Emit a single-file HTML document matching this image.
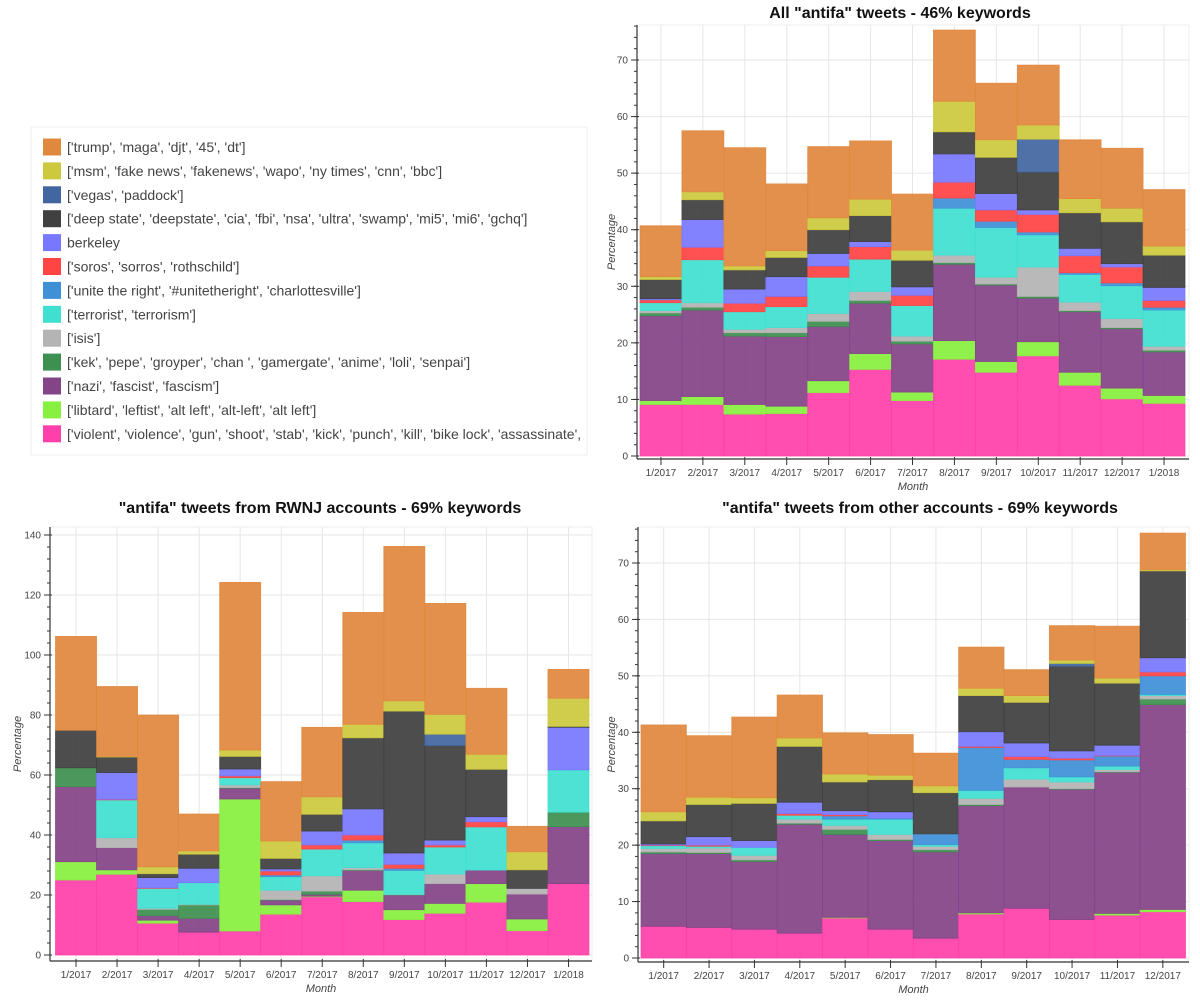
<!DOCTYPE html>
<html><head><meta charset="utf-8">
<style>
html,body{margin:0;padding:0;background:#fff;}
svg{display:block;font-family:"Liberation Sans",sans-serif;}
</style></head>
<body>
<svg id="svg" width="1200" height="1003" viewBox="0 0 1200 1003" xmlns="http://www.w3.org/2000/svg">
<g id="legend">
<rect x="31" y="127" width="556" height="328" fill="#fff" stroke="#ececec"/>
</g>
</svg>
<script>
// ---------- shared ----------
const seriesNames = ["['violent', 'violence', 'gun', 'shoot', 'stab', 'kick', 'punch', 'kill', 'bike lock', 'assassinate',",
"['libtard', 'leftist', 'alt left', 'alt-left', 'alt left']",
"['nazi', 'fascist', 'fascism']",
"['kek', 'pepe', 'groyper', 'chan ', 'gamergate', 'anime', 'loli', 'senpai']",
"['isis']",
"['terrorist', 'terrorism']",
"['unite the right', '#unitetheright', 'charlottesville']",
"['soros', 'sorros', 'rothschild']",
"berkeley",
"['deep state', 'deepstate', 'cia', 'fbi', 'nsa', 'ultra', 'swamp', 'mi5', 'mi6', 'gchq']",
"['vegas', 'paddock']",
"['msm', 'fake news', 'fakenews', 'wapo', 'ny times', 'cnn', 'bbc']",
"['trump', 'maga', 'djt', '45', 'dt']"];
const seriesKeys = ["violent","libtard","nazi","kek","isis","terrorist","unite","soros","berkeley","deepstate","vegas","msm","trump"];
const seriesColors = ["#FF40AA","#88F040","#844488","#3E9050","#B4B4B4","#40E0D0","#4090D8","#FF4444","#7878FF","#404040","#4266A0","#CCC93F","#E0883E"];

const months13 = ["1/2017","2/2017","3/2017","4/2017","5/2017","6/2017","7/2017","8/2017","9/2017","10/2017","11/2017","12/2017","1/2018"];
const months12 = months13.slice(0,12);

// ---------- chart 1: All tweets ----------
const c1_violent  = [9.1,9.1,7.4,7.5,11.2,15.3,9.8,17.1,14.8,17.7,12.5,10.1,9.3];
const c1_libtard  = [0.7,1.4,1.7,1.3,2.1,2.8,1.5,3.3,1.9,2.5,2.3,1.9,1.4];
const c1_nazi     = [15.0,15.3,12.1,12.3,9.6,8.9,8.5,13.5,13.5,7.7,10.7,10.5,7.7];
const c1_kek      = [0.5,0.5,0.6,0.7,0.9,0.5,0.5,0.3,0.2,0.3,0.2,0.2,0.3];
const c1_isis     = [0.4,0.8,0.6,0.9,1.4,1.6,0.9,1.3,1.2,5.2,1.5,1.6,0.7];
const c1_terror   = [1.4,7.6,3.1,3.7,6.4,5.7,5.4,8.3,8.8,5.7,4.9,5.8,6.4];
const c1_unite    = [0,0,0,0,0,0,0,1.8,1.1,0.5,0.3,0.5,0.5];
const c1_soros    = [0.5,2.2,1.5,1.8,2.0,2.2,1.8,2.8,2.0,3.1,3.0,2.8,1.2];
const c1_berkeley = [0.2,4.9,2.5,3.5,2.2,0.9,1.5,5.0,2.9,0.8,1.3,0.6,2.3];
const c1_deep     = [3.4,3.5,3.4,3.4,4.2,4.6,4.7,3.9,6.4,6.7,6.3,7.4,5.7];
const c1_vegas    = [0,0,0,0,0,0,0,0,0,5.8,0,0,0];
const c1_msm      = [0.5,1.4,0.7,1.2,2.1,2.9,1.8,5.4,3.1,2.5,2.5,2.4,1.6];
const c1_trump    = [9.0,10.8,20.9,11.8,12.6,10.3,9.9,12.6,10.0,10.6,10.4,10.6,10.0];
const c1_yTicks = [0,10,20,30,40,50,60,70];

// ---------- chart 2: RWNJ ----------
const c2_violent  = [25,26.9,10.6,7.6,8,13.6,19.4,17.8,11.8,13.9,17.6,8.1,23.8];
const c2_libtard  = [6.1,1.5,1.0,0,44,3.1,0.2,3.8,3.3,3.3,6.2,3.9,0];
const c2_nazi     = [25,7.4,1.5,4.6,3.6,1.6,0.6,6.6,4.9,6.6,4.5,8.3,19];
const c2_kek      = [6.3,0,2.1,4.5,0.2,0.2,1.1,0.2,0.1,0,0,0,4.8];
const c2_isis     = [0,3.3,0.4,0.2,0.9,3.1,5.1,0.7,0.1,3.2,0,1.9,0];
const c2_terror   = [0,12.6,6.6,7.2,2.4,4.5,8.9,8.3,8,9,14.4,0,14.1];
const c2_unite    = [0,0,0,0,0,0.6,0,0.9,0.7,0,0,0,0];
const c2_soros    = [0,0.2,0.2,0,0.6,1.3,1.4,1.7,1.3,0.7,1.7,0,0];
const c2_berkeley = [0,8.9,3.4,4.8,2.3,0.7,4.6,8.7,3.8,1.6,1.7,0,14.2];
const c2_deep     = [12.5,5.2,1.3,4.7,4.2,3.5,5.6,23.7,47.3,31.5,15.8,6.2,0.3];
const c2_vegas    = [0,0,0,0,0,0,0,0,0,3.8,0,0,0];
const c2_msm      = [0,0.2,2.3,1.1,2.1,5.8,5.8,4.5,3.4,6.6,5,6,9.4];
const c2_trump    = [31.3,23.3,50.6,12.3,55.9,19.8,23.2,37.3,51.5,37,22,8.5,9.6];
const c2_yTicks = [0,20,40,60,80,100,120,140];

// ---------- chart 3: other accounts ----------
const c3_violent  = [5.6,5.4,5.1,4.4,7.1,5.1,3.5,7.8,8.8,6.8,7.6,8.2];
const c3_libtard  = [0,0,0,0,0.1,0,0,0.2,0,0,0.3,0.4];
const c3_nazi     = [12.9,13.1,12,19.3,14.7,15.7,15.3,19,21.5,23.1,25,36.3];
const c3_kek      = [0.3,0.2,0.3,0.2,0.9,0.2,0.4,0.2,0,0.1,0.1,1];
const c3_isis     = [0.6,0.8,0.8,0.7,0.7,0.9,0.6,1.1,1.4,1.2,0.4,0.6];
const c3_terror   = [0.5,0.3,1.4,0.7,1.1,2.7,0.3,1.4,2,0.9,0.6,0.2];
const c3_unite    = [0,0,0,0,0.6,0.2,1.9,7.6,1.5,3,1.8,3.3];
const c3_soros    = [0.1,0.2,0,0.3,0.2,0,0,0.2,0.5,0.3,0.1,0.7];
const c3_berkeley = [0.2,1.5,1.2,2,0.7,1.1,0,2.6,2.4,1.3,1.8,2.5];
const c3_deep     = [4.1,5.7,6.6,9.9,5.1,5.7,7.3,6.4,7.2,15,11,15.4];
const c3_vegas    = [0,0,0,0,0,0,0,0,0,0.5,0,0];
const c3_msm      = [1.6,1.3,1,1.5,1.4,0.8,1.2,1.3,1.2,0.6,0.9,0.2];
const c3_trump    = [15.4,10.9,14.3,7.6,7.3,7.2,5.8,7.3,4.6,6.1,9.2,6.5];
const c3_yTicks = [0,10,20,30,40,50,60,70];

const NS = "http://www.w3.org/2000/svg";
const svg = document.getElementById('svg');
function mk(tag, attrs, parent){const e=document.createElementNS(NS,tag);for(const k in attrs)e.setAttribute(k,attrs[k]);(parent||svg).appendChild(e);return e;}

// legend
const legend = document.getElementById('legend');
for(let i=0;i<13;i++){
  const s = 12-i; const cy = 147 + i*23.9;
  const sw = mk('rect',{x:43,y:cy-8.5,width:18,height:17,fill:seriesColors[s]},legend);
  
  
  const t = mk('text',{x:67,y:cy+5,'font-size':14,fill:'#444'},legend);
  t.textContent = seriesNames[s];
  
  
}

function drawChart(cfg){
  const g = mk('g',{});
  
  
  const n = cfg.cats.length;
  const bw = (cfg.x1-cfg.x0)/n;
  const xs = i => cfg.x0 + i*bw;
  const ys = v => cfg.y0 - v*cfg.k;
  const ymax = (cfg.y0-cfg.top)/cfg.k;
  cfg.ticks.forEach(v=>{
    const gl=mk('line',{x1:cfg.ax,x2:cfg.right,y1:ys(v),y2:ys(v),stroke:'#e6e6e6','stroke-width':1},g);
    
    
  });
  for(let i=0;i<n;i++){
    const gl=mk('line',{x1:xs(i)+bw/2,x2:xs(i)+bw/2,y1:cfg.top,y2:cfg.bottom,stroke:'#e6e6e6','stroke-width':1},g);
    
    
  }
  mk('rect',{x:cfg.ax,y:cfg.top,width:cfg.right-cfg.ax,height:cfg.bottom-cfg.top,fill:'none',stroke:'#ececec'},g);
  for(let i=0;i<n;i++){
    let base=0;
    for(let s=0;s<13;s++){
      const v = cfg.series[s][i];
      if(v<=0) continue;
      const r = mk('rect',{x:xs(i),y:ys(base+v),width:bw,height:v*cfg.k,fill:seriesColors[s],stroke:seriesColors[s],'stroke-opacity':0.9,'stroke-width':0.8,'fill-opacity':0.93},g);
      
      
      base += v;
    }
  }
  mk('line',{x1:cfg.ax,x2:cfg.ax,y1:cfg.top,y2:cfg.bottom,stroke:'#333','stroke-width':1.2},g);
  mk('line',{x1:cfg.ax,x2:cfg.right,y1:cfg.bottom,y2:cfg.bottom,stroke:'#333','stroke-width':1.2},g);
  const step = cfg.ticks[1]-cfg.ticks[0];
  for(let v=0; v<=ymax; v+=step/5){
    mk('line',{x1:cfg.ax-3,x2:cfg.ax,y1:ys(v),y2:ys(v),stroke:'#333','stroke-width':1},g);
  }
  cfg.ticks.forEach(v=>{
    mk('line',{x1:cfg.ax-6,x2:cfg.ax+2,y1:ys(v),y2:ys(v),stroke:'#333','stroke-width':1},g);
    const t=mk('text',{x:cfg.ax-9,y:ys(v)+3.5,'font-size':10,fill:'#444','text-anchor':'end'},g);
    t.textContent=v;
    
    
  });
  cfg.cats.forEach((c,i)=>{
    const cx = xs(i)+bw/2;
    mk('line',{x1:cx,x2:cx,y1:cfg.bottom-2,y2:cfg.bottom+6,stroke:'#333','stroke-width':1},g);
    const t=mk('text',{x:cx,y:cfg.bottom+17,'font-size':10,fill:'#444','text-anchor':'middle'},g);
    t.textContent=c;
    
    
  });
  const tt=mk('text',{x:cfg.tx,y:cfg.ty,'font-size':16,'font-weight':'bold',fill:'#111','text-anchor':'middle'},g);
  tt.textContent=cfg.title;
  
  
  const xl=mk('text',{x:(cfg.ax+cfg.right)/2,y:cfg.bottom+31,'font-size':11,'font-style':'italic',fill:'#444','text-anchor':'middle'},g);
  xl.textContent='Month';
  
  
  const ylx=cfg.ax-cfg.ylOff, yly=(cfg.top+cfg.bottom)/2;
  const yl=mk('text',{x:ylx,y:yly,'font-size':11,'font-style':'italic',fill:'#444','text-anchor':'middle',transform:'rotate(-90 '+ylx+' '+yly+')'},g);
  yl.textContent='Percentage';
  
  
}

drawChart({name:'chart-all-tweets',title:'All "antifa" tweets - 46% keywords',cats:months13,ticks:c1_yTicks,
  series:[c1_violent,c1_libtard,c1_nazi,c1_kek,c1_isis,c1_terror,c1_unite,c1_soros,c1_berkeley,c1_deep,c1_vegas,c1_msm,c1_trump],
  x0:640,x1:1185,y0:456,k:5.657,ax:637,top:25,right:1189,bottom:459,tx:900,ty:18,ylOff:22});
drawChart({name:'chart-rwnj-accounts',title:'"antifa" tweets from RWNJ accounts - 69% keywords',cats:months13,ticks:c2_yTicks,
  series:[c2_violent,c2_libtard,c2_nazi,c2_kek,c2_isis,c2_terror,c2_unite,c2_soros,c2_berkeley,c2_deep,c2_vegas,c2_msm,c2_trump],
  x0:55.5,x1:589,y0:955,k:3.0,ax:50,top:527,right:592,bottom:961,tx:320,ty:513,ylOff:29});
drawChart({name:'chart-other-accounts',title:'"antifa" tweets from other accounts - 69% keywords',cats:months12,ticks:c3_yTicks,
  series:[c3_violent,c3_libtard,c3_nazi,c3_kek,c3_isis,c3_terror,c3_unite,c3_soros,c3_berkeley,c3_deep,c3_vegas,c3_msm,c3_trump],
  x0:641,x1:1185.5,y0:958,k:5.643,ax:638,top:527,right:1189,bottom:962,tx:920,ty:513,ylOff:23});
</script>
</body></html>
